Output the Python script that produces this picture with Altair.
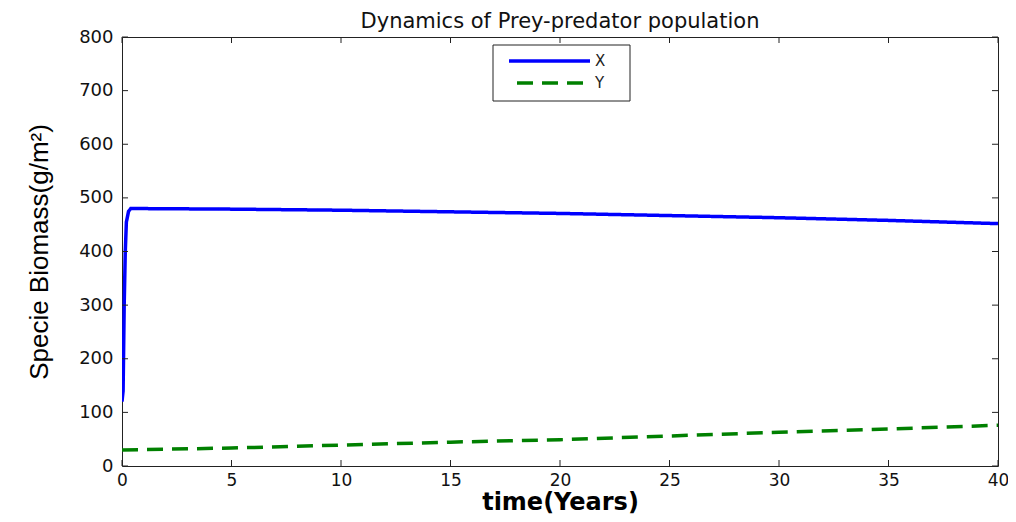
import altair as alt
import pandas as pd

# ---- data ----
x_time = [0, 0.05, 0.1, 0.15, 0.2, 0.3, 0.4, 1, 5, 10, 15, 20, 25, 30, 35, 40]
x_vals = [120, 140, 300, 400, 455, 475, 480, 480, 479, 477, 474, 471, 467, 463, 458, 452]

y_time = [0, 5, 10, 15, 20, 25, 30, 35, 40]
y_vals = [30, 33.5, 39, 44.5, 49, 56, 63, 69, 76]

x_ticks = [0, 5, 10, 15, 20, 25, 30, 35, 40]
y_ticks = [0, 100, 200, 300, 400, 500, 600, 700, 800]

series_names = ["X", "Y"]
series_colors = ["#0000ff", "#008000"]

W, H = 876, 429

df = pd.concat([
    pd.DataFrame({"time": x_time, "value": x_vals, "series": "X"}),
    pd.DataFrame({"time": y_time, "value": y_vals, "series": "Y"}),
])

xscale = alt.Scale(domain=[0, 40], nice=False, zero=False)
yscale = alt.Scale(domain=[0, 800], nice=False)

lines = alt.Chart(df).mark_line(strokeWidth=3.5, clip=True).encode(
    x=alt.X("time:Q", scale=xscale,
            axis=alt.Axis(values=x_ticks, title="time(Years)", labelPadding=6,
                          labelFlush=False,
                          titleFont="DejaVu Sans", titleFontWeight="bold",
                          titleFontSize=24, titlePadding=2)),
    y=alt.Y("value:Q", scale=yscale,
            axis=alt.Axis(values=y_ticks, title="Specie Biomass(g/m²)", labelPadding=9,
                          labelFontSize=18, labelFlush=False,
                          titleFont="Liberation Sans", titleFontWeight="normal",
                          titleFontSize=26, titlePadding=26)),
    color=alt.Color("series:N", scale=alt.Scale(domain=series_names, range=series_colors), legend=None),
    strokeDash=alt.StrokeDash("series:N", scale=alt.Scale(domain=series_names, range=[[1, 0], [16, 9]]), legend=None),
    detail="series:N",
)

xt = pd.DataFrame({"time": x_ticks})
yt = pd.DataFrame({"value": y_ticks})
tick_color = "#222222"

xt_bottom = alt.Chart(xt).mark_rule(color=tick_color, strokeWidth=1).encode(
    x=alt.X("time:Q"), y=alt.value(H), y2=alt.value(H - 6))
xt_top = alt.Chart(xt).mark_rule(color=tick_color, strokeWidth=1).encode(
    x=alt.X("time:Q"), y=alt.value(0), y2=alt.value(6))
yt_left = alt.Chart(yt).mark_rule(color=tick_color, strokeWidth=1).encode(
    y=alt.Y("value:Q"), x=alt.value(0), x2=alt.value(6))
yt_right = alt.Chart(yt).mark_rule(color=tick_color, strokeWidth=1).encode(
    y=alt.Y("value:Q"), x=alt.value(W), x2=alt.value(W - 6))

# ---- legend box (MATLAB style) ----
one = pd.DataFrame({"a": [0]})
leg_box = alt.Chart(one).mark_rect(fill="white", stroke="#222222", strokeWidth=1).encode(
    x=alt.value(371), x2=alt.value(508), y=alt.value(8), y2=alt.value(64))
leg_x = alt.Chart(one).mark_rule(color=series_colors[0], strokeWidth=3.5).encode(
    x=alt.value(387), x2=alt.value(468), y=alt.value(24))
leg_y = alt.Chart(one).mark_rule(color=series_colors[1], strokeWidth=3.5, strokeDash=[16, 9]).encode(
    x=alt.value(395), x2=alt.value(468), y=alt.value(46))
leg_tx = alt.Chart(one).mark_text(align="left", baseline="middle", font="DejaVu Sans",
                                  fontSize=15, color="#222222").encode(
    x=alt.value(473), y=alt.value(24), text=alt.value(series_names[0]))
leg_ty = alt.Chart(one).mark_text(align="left", baseline="middle", font="DejaVu Sans",
                                  fontSize=15, color="#222222").encode(
    x=alt.value(473), y=alt.value(46), text=alt.value(series_names[1]))

chart = alt.layer(
    lines, xt_bottom, xt_top, yt_left, yt_right,
    leg_box, leg_x, leg_y, leg_tx, leg_ty,
).properties(
    width=W, height=H,
    title=alt.TitleParams("Dynamics of Prey-predator population", font="DejaVu Sans",
                          fontSize=21, fontWeight="normal", color="#111111",
                          anchor="middle", frame="group", offset=-4),
    autosize=alt.AutoSizeParams(type="none"),
    padding={"left": 114, "top": 29, "right": 10, "bottom": 48},
).configure_view(
    stroke="#222222", strokeWidth=1
).configure_axis(
    grid=False, ticks=False, domain=False,
    labelFont="DejaVu Sans", labelFontSize=17, labelColor="#111111",
    titleColor="#000000",
)

chart.save("out.html", embed_options={"renderer": "svg", "actions": False})
